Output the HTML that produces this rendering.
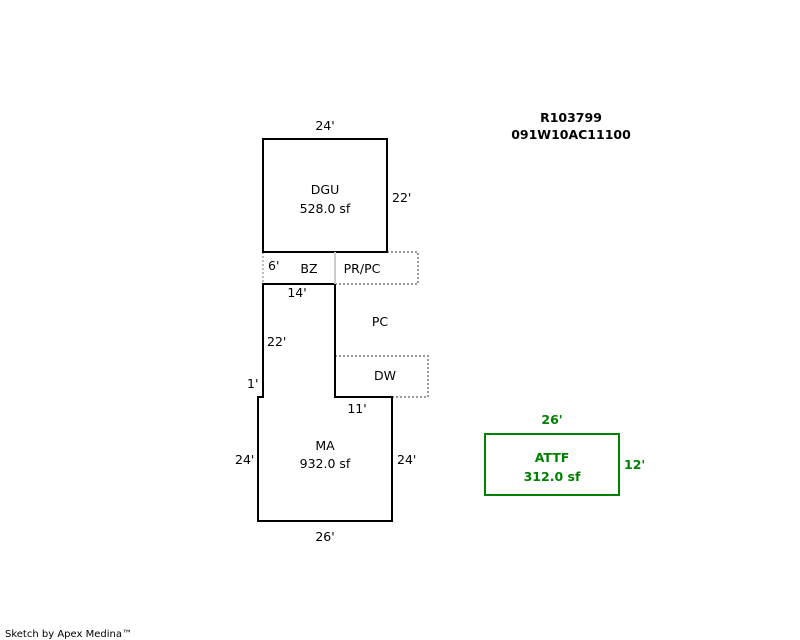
<!DOCTYPE html>
<html><head><meta charset="utf-8"><style>
html,body{margin:0;padding:0;background:#fff;}
svg{display:block;}
text{font-family:"DejaVu Sans","Liberation Sans",sans-serif;font-size:12.5px;fill:#000;}
</style></head><body>
<svg width="800" height="640" viewBox="0 0 800 640" xmlns="http://www.w3.org/2000/svg">
<text x="571" y="122" text-anchor="middle" font-weight="bold">R103799</text>
<text x="571" y="139" text-anchor="middle" font-weight="bold">091W10AC11100</text>
<g fill="none" stroke="#999" stroke-width="2" stroke-dasharray="2,2">
<path d="M263 252 V284 M263 252 H335" stroke="#bbb"/>
<path d="M335 252 H418 V284 H335"/>
<path d="M335 356 H428 V397 H392"/>
</g>
<g fill="none" stroke="#000" stroke-width="2">
<rect x="263" y="139" width="124" height="113"/>
<path d="M263 284 H335 V397 H392 V521 H258 V397 H263 Z"/>
<path d="M335 252 V284" stroke="#ccc"/>
</g>
<rect x="485" y="434" width="134" height="61" fill="none" stroke="#008000" stroke-width="2"/>
<text x="325" y="130" text-anchor="middle">24'</text>
<text x="392" y="202">22'</text>
<text x="325" y="194" text-anchor="middle">DGU</text>
<text x="325" y="213" text-anchor="middle">528.0 sf</text>
<text x="268" y="270">6'</text>
<text x="309" y="273" text-anchor="middle">BZ</text>
<text x="362" y="273" text-anchor="middle">PR/PC</text>
<text x="297" y="297" text-anchor="middle">14'</text>
<text x="380" y="326" text-anchor="middle">PC</text>
<text x="267" y="346">22'</text>
<text x="385" y="380" text-anchor="middle">DW</text>
<text x="247" y="388">1'</text>
<text x="357" y="413" text-anchor="middle">11'</text>
<text x="325" y="450" text-anchor="middle">MA</text>
<text x="325" y="468" text-anchor="middle">932.0 sf</text>
<text x="235" y="464">24'</text>
<text x="397" y="464">24'</text>
<text x="325" y="541" text-anchor="middle">26'</text>
<g font-weight="bold">
<text x="552" y="424" text-anchor="middle" style="fill:#008000">26'</text>
<text x="552" y="462" text-anchor="middle" style="fill:#008000">ATTF</text>
<text x="552" y="481" text-anchor="middle" style="fill:#008000">312.0 sf</text>
<text x="624" y="469" style="fill:#008000">12'</text>
</g>
<text x="5" y="637" style="font-size:10px">Sketch by Apex Medina™</text>
</svg>
</body></html>
